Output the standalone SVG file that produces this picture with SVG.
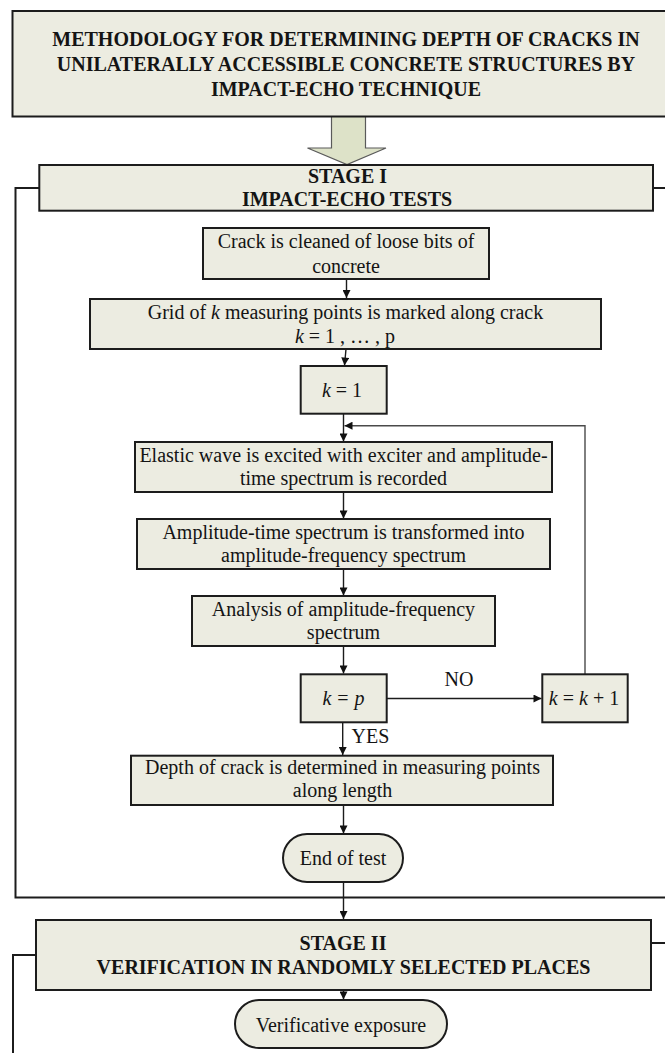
<svg xmlns="http://www.w3.org/2000/svg" width="665" height="1053" viewBox="0 0 665 1053">
  <style>
    .box { fill: #ECECE1; stroke: #1c1c1c; stroke-width: 2; }
    .t { font-family: "Liberation Serif", "Times New Roman", serif; font-size: 20px; fill: #141414; text-anchor: middle; }
    .b { font-weight: bold; }
    .i { font-style: italic; }
    .frame { fill: none; stroke: #1c1c1c; stroke-width: 2; }
    .link { fill: none; stroke: #1c1c1c; stroke-width: 1.4; }
    .back { fill: none; stroke: #4a4a4a; stroke-width: 1.4; }
  </style>
  <defs>
    <marker id="arrow" viewBox="0 0 10 10" refX="10" refY="5" markerWidth="9" markerHeight="8" markerUnits="userSpaceOnUse" orient="auto">
      <path d="M0,0 L10,5 L0,10 Z" fill="#111"/>
    </marker>
  </defs>

  <rect width="665" height="1053" fill="#ffffff"/>

  <!-- stage frames -->
  <g id="frames">
    <polyline class="frame" points="39,188 15.5,188 15.5,897.5 672,897.5"/>
    <line class="frame" x1="653" y1="188" x2="672" y2="188"/>
    <polyline class="frame" points="36,955 13,955 13,1060"/>
    <line class="frame" x1="651" y1="943" x2="672" y2="943"/>
  </g>

  <!-- connectors -->
  <g id="connectors">
    <path d="M331.5,116.5 H365.5 V148 H386 L347,164.5 L307.5,148 H331.5 Z" fill="#DDE2C8" stroke="#5a5a5a" stroke-width="1.2"/>
    <line class="link" x1="346.5" y1="279" x2="346.5" y2="298" marker-end="url(#arrow)"/>
    <line class="link" x1="346" y1="349" x2="344.5" y2="365.5" marker-end="url(#arrow)"/>
    <line class="link" x1="343.5" y1="414" x2="343.5" y2="441.5" marker-end="url(#arrow)"/>
    <line class="link" x1="343.5" y1="492" x2="343.5" y2="518.5" marker-end="url(#arrow)"/>
    <line class="link" x1="343.5" y1="569" x2="343.5" y2="595.5" marker-end="url(#arrow)"/>
    <line class="link" x1="343.5" y1="646" x2="343.5" y2="673.5" marker-end="url(#arrow)"/>
    <line class="link" x1="387" y1="698.5" x2="541.5" y2="698.5" marker-end="url(#arrow)"/>
    <polyline class="back" points="585,674 585,425.7 344.5,425.7" marker-end="url(#arrow)"/>
    <line class="link" x1="342.7" y1="722.5" x2="342.7" y2="755" marker-end="url(#arrow)"/>
    <line class="link" x1="343.5" y1="805" x2="343.5" y2="833.5" marker-end="url(#arrow)"/>
    <line class="link" x1="343.5" y1="882" x2="343.5" y2="919" marker-end="url(#arrow)"/>
    <line class="link" x1="343.5" y1="990" x2="343.5" y2="999.5" marker-end="url(#arrow)"/>
    <text class="t" x="459" y="686">NO</text>
    <text class="t" x="351.5" y="743" style="text-anchor:start">YES</text>
  </g>

  <g id="title">
    <rect class="box" x="12.5" y="11" width="680" height="105.5"/>
    <text class="t b" x="346" y="45.5">METHODOLOGY FOR DETERMINING DEPTH OF CRACKS IN</text>
    <text class="t b" x="346" y="70.5">UNILATERALLY ACCESSIBLE CONCRETE STRUCTURES BY</text>
    <text class="t b" x="346" y="95.5">IMPACT-ECHO TECHNIQUE</text>
  </g>

  <g id="stage1">
    <rect class="box" x="39.3" y="165" width="613.7" height="45.7"/>
    <text class="t b" x="347.5" y="183">STAGE I</text>
    <text class="t b" x="347" y="206">IMPACT-ECHO TESTS</text>
  </g>

  <g id="clean">
    <rect class="box" x="203" y="228" width="286" height="51"/>
    <text class="t" x="346" y="248">Crack is cleaned of loose bits of</text>
    <text class="t" x="346" y="272.5">concrete</text>
  </g>

  <g id="grid">
    <rect class="box" x="90" y="299" width="511" height="50"/>
    <text class="t" x="345.5" y="318.5">Grid of <tspan class="i">k</tspan> measuring points is marked along crack</text>
    <text class="t" x="345" y="342.5"><tspan class="i">k</tspan> = 1 , … , p</text>
  </g>

  <g id="k-start">
    <rect class="box" x="300.7" y="366" width="86" height="47.7"/>
    <text class="t" x="342" y="396.5"><tspan class="i">k</tspan> = 1</text>
  </g>

  <g id="excite">
    <rect class="box" x="135" y="442" width="417" height="50"/>
    <text class="t" x="343.5" y="462">Elastic wave is excited with exciter and amplitude-</text>
    <text class="t" x="343.5" y="485">time spectrum is recorded</text>
  </g>

  <g id="transform">
    <rect class="box" x="137" y="519" width="413" height="50"/>
    <text class="t" x="343.5" y="538.5">Amplitude-time spectrum is transformed into</text>
    <text class="t" x="343.5" y="562">amplitude-frequency spectrum</text>
  </g>

  <g id="analysis">
    <rect class="box" x="192" y="596" width="303" height="50"/>
    <text class="t" x="343.5" y="615.5">Analysis of amplitude-frequency</text>
    <text class="t" x="343.5" y="638.5">spectrum</text>
  </g>

  <g id="k-check">
    <rect class="box" x="300.7" y="674.3" width="86" height="48"/>
    <text class="t" x="343.5" y="705"><tspan class="i">k</tspan><tspan dx="6">=</tspan><tspan class="i" dx="6">p</tspan></text>
  </g>

  <g id="k-next">
    <rect class="box" x="542.3" y="674.3" width="85.4" height="48"/>
    <text class="t" x="584" y="705"><tspan class="i">k</tspan> = <tspan class="i">k</tspan> + 1</text>
  </g>

  <g id="depth">
    <rect class="box" x="131" y="755.7" width="422" height="49.3"/>
    <text class="t" x="342.5" y="773.5">Depth of crack is determined in measuring points</text>
    <text class="t" x="342.5" y="797">along length</text>
  </g>

  <g id="end-test">
    <rect class="box" x="283" y="834" width="120" height="48" rx="24" ry="24"/>
    <text class="t" x="343" y="865">End of test</text>
  </g>

  <g id="stage2">
    <rect class="box" x="36" y="920" width="615" height="70"/>
    <text class="t b" x="343" y="950">STAGE II</text>
    <text class="t b" x="343.5" y="974">VERIFICATION IN RANDOMLY SELECTED PLACES</text>
  </g>

  <g id="exposure">
    <rect class="box" x="235" y="1000" width="212" height="48" rx="24" ry="24"/>
    <text class="t" x="341" y="1032">Verificative exposure</text>
  </g>
</svg>
